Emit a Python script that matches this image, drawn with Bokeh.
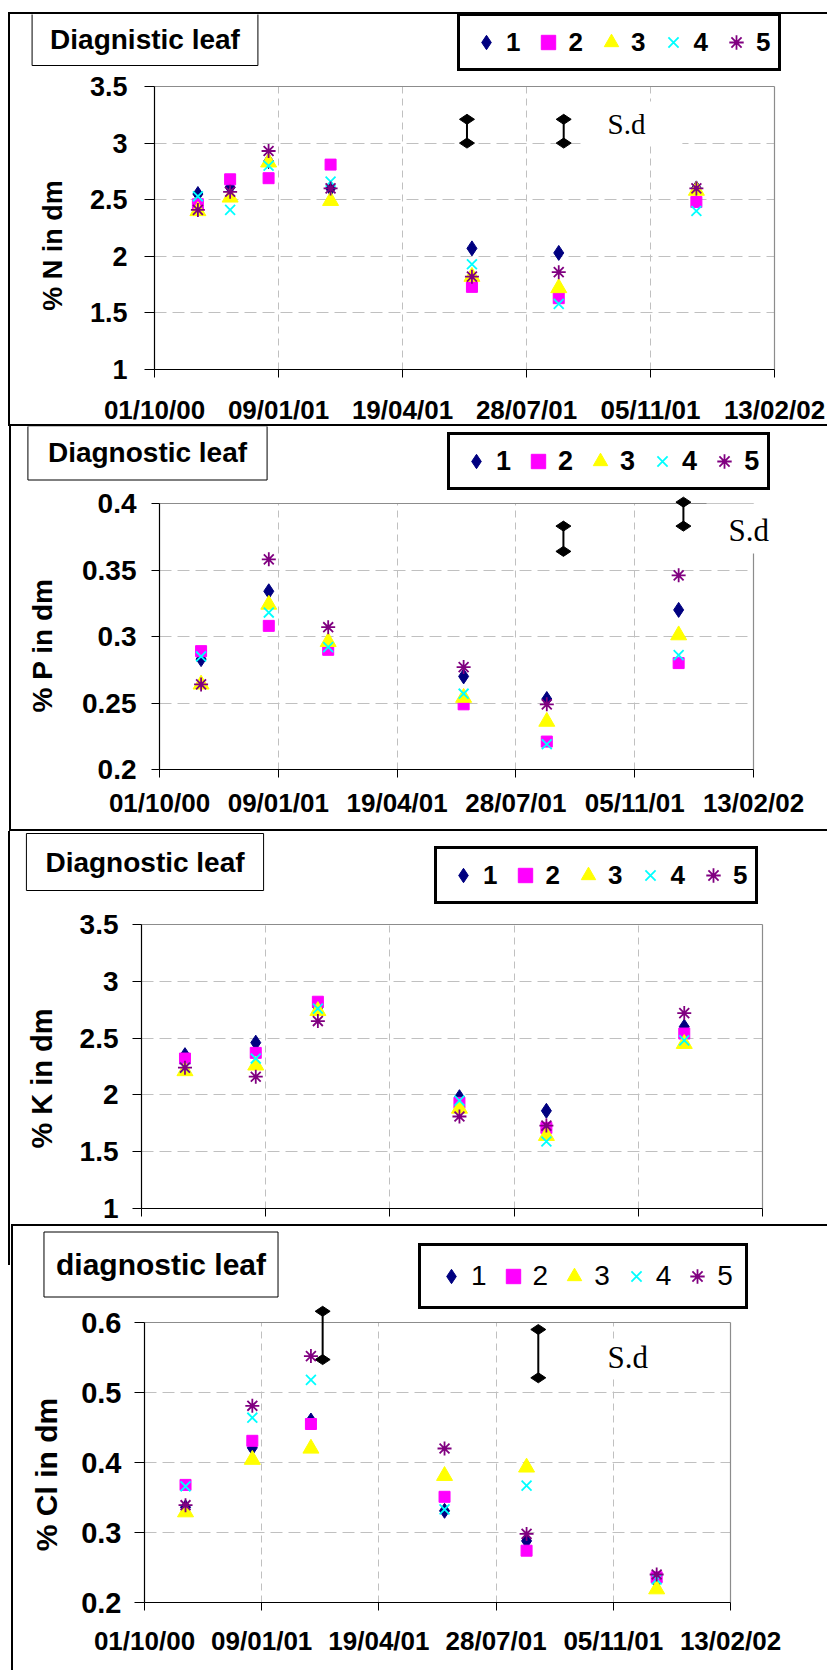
import numpy as np
from math import pi

from bokeh.plotting import figure
from bokeh.models import FixedTicker, Range1d, Legend, LegendItem, Label, Spacer
from bokeh.layouts import column, row
from bokeh.embed import file_html
from bokeh.resources import INLINE

SANS = "Liberation Sans"
SERIF = "Liberation Serif"

# ---------------- shared axis ----------------
x_tick_dates = ["2000-10-01", "2001-01-09", "2001-04-19", "2001-07-28", "2001-11-05", "2002-02-13"]
x_tick_labels = ["01/10/00", "09/01/01", "19/04/01", "28/07/01", "05/11/01", "13/02/02"]

treatments = ["1", "2", "3", "4", "5"]

# ---------------- % N in dry matter ----------------
N_dates = ["2000-11-05", "2000-12-01", "2001-01-01", "2001-02-20", "2001-06-14", "2001-08-23", "2001-12-12"]
N_1 = [2.55, 2.61, 2.84, 2.60, 2.07, 2.03, 2.60]
N_2 = [2.46, 2.68, 2.69, 2.81, 1.73, 1.63, 2.48]
N_3 = [2.40, 2.52, 2.83, 2.49, 1.82, 1.72, 2.58]
N_4 = [2.53, 2.41, 2.80, 2.66, 1.93, 1.58, 2.40]
N_5 = [2.41, 2.57, 2.93, 2.60, 1.82, 1.86, 2.60]
N_sd_dates = ["2001-06-10", "2001-08-27"]
N_sd_low = [3.00, 3.00]
N_sd_high = [3.21, 3.21]
N_y_ticks = [1, 1.5, 2, 2.5, 3, 3.5]
N_y_labels = ["1", "1.5", "2", "2.5", "3", "3.5"]

# ---------------- % P in dry matter ----------------
P_dates = ["2000-11-05", "2001-01-01", "2001-02-20", "2001-06-14", "2001-08-23", "2001-12-12"]
P_1 = [0.283, 0.334, 0.294, 0.270, 0.253, 0.320]
P_2 = [0.289, 0.308, 0.290, 0.249, 0.221, 0.280]
P_3 = [0.264, 0.324, 0.296, 0.254, 0.236, 0.301]
P_4 = [0.285, 0.318, 0.292, 0.257, 0.219, 0.286]
P_5 = [0.264, 0.358, 0.307, 0.277, 0.249, 0.346]
P_sd_dates = ["2001-09-06", "2001-12-16"]
P_sd_low = [0.364, 0.383]
P_sd_high = [0.383, 0.401]
P_y_ticks = [0.2, 0.25, 0.3, 0.35, 0.4]
P_y_labels = ["0.2", "0.25", "0.3", "0.35", "0.4"]

# ---------------- % K in dry matter ----------------
K_dates = ["2000-11-05", "2001-01-01", "2001-02-20", "2001-06-14", "2001-08-23", "2001-12-12"]
K_1 = [2.35, 2.46, 2.77, 1.98, 1.86, 2.60]
K_2 = [2.32, 2.37, 2.82, 1.93, 1.71, 2.54]
K_3 = [2.21, 2.26, 2.74, 1.88, 1.64, 2.45]
K_4 = [2.24, 2.32, 2.76, 1.95, 1.59, 2.48]
K_5 = [2.24, 2.16, 2.65, 1.81, 1.73, 2.72]
K_y_ticks = [1, 1.5, 2, 2.5, 3, 3.5]
K_y_labels = ["1", "1.5", "2", "2.5", "3", "3.5"]

# ---------------- % Cl in dry matter ----------------
Cl_dates = ["2000-11-05", "2001-01-01", "2001-02-20", "2001-06-14", "2001-08-23", "2001-12-12"]
Cl_1 = [0.336, 0.421, 0.460, 0.331, 0.288, 0.230]
Cl_2 = [0.368, 0.431, 0.455, 0.351, 0.274, 0.236]
Cl_3 = [0.329, 0.404, 0.420, 0.381, 0.393, 0.219]
Cl_4 = [0.366, 0.464, 0.518, 0.333, 0.367, 0.233]
Cl_5 = [0.339, 0.481, 0.552, 0.420, 0.298, 0.240]
Cl_sd_dates = ["2001-03-02", "2001-09-02"]
Cl_sd_low = [0.547, 0.521]
Cl_sd_high = [0.616, 0.590]
Cl_y_ticks = [0.2, 0.3, 0.4, 0.5, 0.6]
Cl_y_labels = ["0.2", "0.3", "0.4", "0.5", "0.6"]

# marker styling per treatment
MARKERS = ["diamond", "square", "triangle", "x", "asterisk"]
MARKER_SIZES = [15, 11, 16, 14, 14]
COLORS = ["#000080", "#FF00FF", "#FFFF00", "#00FFFF", "#800080"]

GRID_COLOR = "#C0C0C0"
BORDER_GRAY = "#8C8C8C"


def ms(d):
    return float((np.datetime64(d) - np.datetime64("1970-01-01")) / np.timedelta64(1, "ms"))


X_TICKS = [ms(d) for d in x_tick_dates]
X0, X1 = X_TICKS[0], X_TICKS[-1]


def style_text_axis(ax, size, standoff):
    ax.major_label_text_font = SANS
    ax.major_label_text_font_size = f"{size}px"
    ax.major_label_text_font_style = "bold"
    ax.major_label_text_color = "black"
    ax.major_label_standoff = standoff


def build_panel(dates, series, sd, y_ticks, y_labels, y_title, title, lay):
    W, H = lay["w"], lay["h"]
    lo, hi = y_ticks[0], y_ticks[-1]

    # the plotting frame fills the whole canvas; axes sit at fixed data locations
    kx = lay["axis_w"] / (X1 - X0)
    x_start = X0 - lay["ax_left"] / kx
    x_end = X0 + (W - lay["ax_left"]) / kx
    ky = (lay["y_lo_px"] - lay["y_hi_px"]) / (hi - lo)
    y_start = lo - (H - lay["y_lo_px"]) / ky
    y_end = lo + lay["y_lo_px"] / ky

    p = figure(width=W, height=H, x_axis_type="datetime",
               x_range=Range1d(x_start, x_end), y_range=Range1d(y_start, y_end),
               min_border=0, output_backend="svg", toolbar_location=None,
               background_fill_color="white", border_fill_color="white",
               outline_line_color=None)

    # x axis (dates)
    xa = p.xaxis[0]
    xa.fixed_location = lo
    xa.bounds = (X0, X1)
    xa.axis_line_color = "black"
    xa.axis_line_width = 1.2
    xa.major_tick_in = 0
    xa.minor_tick_in = 0
    if lay["x_labels"]:
        xa.ticker = FixedTicker(ticks=X_TICKS)
        xa.major_label_overrides = {t: s for t, s in zip(X_TICKS, x_tick_labels)}
        xa.major_tick_line_color = "black"
        xa.major_tick_out = 8
        xa.minor_tick_line_color = None
        style_text_axis(xa, 26, lay["xso"])
    else:
        # tick marks only; the date labels are hidden behind the panel below
        xa.ticker = FixedTicker(ticks=[], minor_ticks=X_TICKS)
        xa.minor_tick_line_color = "black"
        xa.minor_tick_out = 8

    # y axis
    ya = p.yaxis[0]
    ya.fixed_location = X0
    ya.ticker = FixedTicker(ticks=y_ticks)
    ya.major_label_overrides = {t: s for t, s in zip(y_ticks, y_labels)}
    ya.bounds = (lo, hi)
    ya.axis_line_color = "black"
    ya.axis_line_width = 1.2
    ya.major_tick_line_color = "black"
    ya.major_tick_out = lay["yto"]
    ya.major_tick_in = 0
    ya.minor_tick_line_color = None
    style_text_axis(ya, lay["yfs"], lay["yso"])

    # dashed grid inside the plotting area
    p.xgrid.ticker = FixedTicker(ticks=X_TICKS[1:-1])
    p.xgrid.cross_bounds = (lo, hi)
    p.xgrid.grid_line_color = GRID_COLOR
    p.xgrid.grid_line_dash = "7 5"
    p.ygrid.ticker = FixedTicker(ticks=y_ticks[1:-1])
    p.ygrid.cross_bounds = (X0, X1)
    p.ygrid.grid_line_color = GRID_COLOR
    p.ygrid.grid_line_dash = "12 6"

    # upper and right edges of the plotting area
    p.segment(x0=[X0, X1], y0=[hi, lo], x1=[X1, X1], y1=[hi, hi],
              line_color=BORDER_GRAY, line_width=1.2)

    # standard-deviation bars
    if sd is not None:
        sd_dates, sd_lo, sd_hi = sd
        sx = [ms(d) for d in sd_dates]
        p.segment(x0=sx, y0=sd_lo, x1=sx, y1=sd_hi, line_color="black", line_width=2)
        p.scatter(sx + sx, list(sd_lo) + list(sd_hi), marker="diamond", angle=pi / 2,
                  size=15, color="black")

    # treatments
    xs = [ms(d) for d in dates]
    items = []
    for name, vals, mk, sz, col in zip(treatments, series, MARKERS, MARKER_SIZES, COLORS):
        lw = 1.8 if mk in ("x", "asterisk") else 1
        r = p.scatter(xs, vals, marker=mk, size=sz, fill_color=col, line_color=col, line_width=lw)
        items.append(LegendItem(label=name, renderers=[r]))

    leg = Legend(items=items, orientation="horizontal", location=lay["leg_loc"],
                 glyph_width=36, glyph_height=36, label_width=0, label_standoff=2,
                 spacing=lay["leg_sp"], padding=lay["leg_pad"], margin=0,
                 border_line_color="black", border_line_width=3, border_line_alpha=1,
                 background_fill_color="white", background_fill_alpha=1,
                 label_text_font=SANS, label_text_font_size=f"{lay['leg_fs']}px",
                 label_text_font_style=lay["leg_style"], label_text_color="black")
    p.add_layout(leg)

    tx, ty = lay["title_xy"]
    tl, tr, tt, tb = lay["title_pad"]
    p.add_layout(Label(x=tx, y=ty, x_units="screen", y_units="screen", text=title,
                       text_font=SANS, text_font_size=f"{lay['title_fs']}px",
                       text_font_style="bold", text_color="black",
                       text_align="center", text_baseline="middle",
                       border_line_color="black", border_line_width=1,
                       background_fill_color="white", background_fill_alpha=1,
                       padding=dict(left=tl, right=tr, top=tt, bottom=tb)))

    yx, yy = lay["ytitle_xy"]
    p.add_layout(Label(x=yx, y=yy, x_units="screen", y_units="screen", text=y_title,
                       angle=pi / 2, text_font=SANS, text_font_size=f"{lay['ytitle_fs']}px",
                       text_font_style="bold", text_color="black",
                       text_align="center", text_baseline="middle"))

    if lay.get("sd_label") is not None:
        sx_, sy_, sfs, (pl, pr, pt, pb) = lay["sd_label"]
        p.add_layout(Label(x=sx_, y=sy_, x_units="screen", y_units="screen", text="S.d",
                           text_font=SERIF, text_font_size=f"{sfs}px", text_color="black",
                           text_align="left", text_baseline="middle",
                           background_fill_color="white", background_fill_alpha=1,
                           padding=dict(left=pl, right=pr, top=pt, bottom=pb)))
    return p


# canvas-relative layout (x from left, y from bottom; legend location is its lower-left corner)
lay_N = dict(w=817, h=410, ax_left=144, axis_w=620, y_hi_px=72, y_lo_px=355,
             x_labels=True, xso=17, yfs=27, yso=17, yto=10,
             leg_loc=(447, 353), leg_sp=10, leg_pad=8, leg_fs=26, leg_style="bold",
             title_xy=(134.5, 385.5), title_fs=28, title_pad=(18, 18, 11, 11),
             ytitle_xy=(42, 179), ytitle_fs=27,
             sd_label=(575, 301, 29, (22, 37, 6, 6)))
lay_P = dict(w=816, h=403, ax_left=148, axis_w=594, y_hi_px=77, y_lo_px=343,
             x_labels=True, xso=10, yfs=28, yso=15, yto=8,
             leg_loc=(436, 339), leg_sp=9, leg_pad=8, leg_fs=27, leg_style="bold",
             title_xy=(136, 376.5), title_fs=28, title_pad=(20, 20, 11, 12),
             ytitle_xy=(31, 184), ytitle_fs=28,
             sd_label=(695, 301, 31, (22, 5, 9, 6)))
lay_K = dict(w=817, h=393, ax_left=131, axis_w=621, y_hi_px=93, y_lo_px=377,
             x_labels=False, xso=0, yfs=28, yso=14, yto=9,
             leg_loc=(424, 320), leg_sp=10, leg_pad=8, leg_fs=26, leg_style="bold",
             title_xy=(134.5, 362.5), title_fs=28, title_pad=(19, 19, 13, 13),
             ytitle_xy=(31, 146), ytitle_fs=29,
             sd_label=None)
lay_Cl = dict(w=814, h=444, ax_left=131, axis_w=586, y_hi_px=96, y_lo_px=376,
              x_labels=True, xso=15, yfs=29, yso=13, yto=10,
              leg_loc=(405, 361), leg_sp=8, leg_pad=12, leg_fs=28, leg_style="normal",
              title_xy=(147.5, 406), title_fs=30, title_pad=(12, 12, 16, 16),
              ytitle_xy=(33, 196), ytitle_fs=30,
              sd_label=(592, 313, 31, (2, 2, 1, 1)))

p_N = build_panel(N_dates, [N_1, N_2, N_3, N_4, N_5], (N_sd_dates, N_sd_low, N_sd_high),
                  N_y_ticks, N_y_labels, "% N in dm", "Diagnistic leaf", lay_N)
p_P = build_panel(P_dates, [P_1, P_2, P_3, P_4, P_5], (P_sd_dates, P_sd_low, P_sd_high),
                  P_y_ticks, P_y_labels, "% P in dm", "Diagnostic leaf", lay_P)
p_K = build_panel(K_dates, [K_1, K_2, K_3, K_4, K_5], None,
                  K_y_ticks, K_y_labels, "% K in dm", "Diagnostic leaf", lay_K)
p_Cl = build_panel(Cl_dates, [Cl_1, Cl_2, Cl_3, Cl_4, Cl_5], (Cl_sd_dates, Cl_sd_low, Cl_sd_high),
                   Cl_y_ticks, Cl_y_labels, "% Cl in dm", "diagnostic leaf", lay_Cl)

# panel frames drawn as thin black strips around the figures
BLACK = {"background-color": "black"}


def hline(w):
    return Spacer(width=w, height=2, styles=BLACK)


def vline(h):
    return Spacer(width=2, height=h, styles=BLACK)


def gap(w, h):
    return Spacer(width=w, height=h)


page = column(
    gap(827, 12),
    row(gap(8, 2), hline(819)),
    row(gap(8, 410), vline(410), p_N),
    row(gap(8, 2), hline(819)),
    row(gap(9, 403), vline(403), p_P),
    row(gap(9, 2), hline(818)),
    row(gap(8, 393), vline(393), p_K),
    row(gap(8, 2), vline(2), gap(1, 2), hline(816)),
    row(gap(8, 444), column(vline(39), gap(2, 405)), gap(1, 444), vline(444), p_Cl),
)

open("out.html", "w").write(file_html(page, INLINE))
